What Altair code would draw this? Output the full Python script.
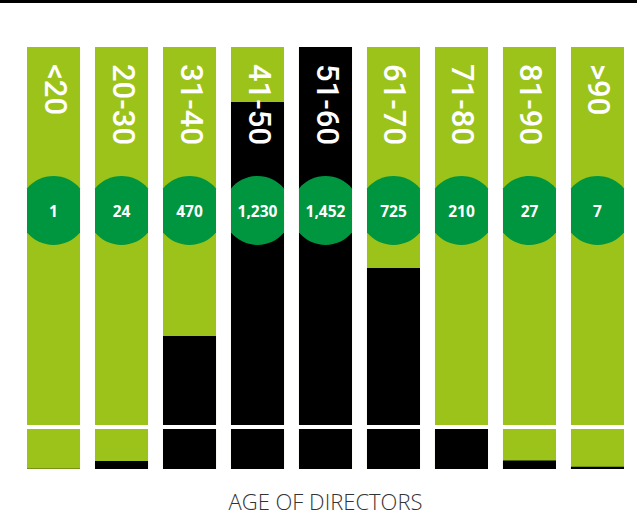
import altair as alt
import pandas as pd

categories = ["<20", "20-30", "31-40", "41-50", "51-60", "61-70", "71-80", "81-90", ">90"]
counts = [1, 24, 470, 1230, 1452, 725, 210, 27, 7]
count_labels = ["1", "24", "470", "1,230", "1,452", "725", "210", "27", "7"]

# broken / piecewise value scale as drawn in the infographic
scale_domain = [0, 24, 210, 470, 725, 1230, 1452]
scale_range = [422, 414, 382, 289, 221, 55, 0]
break_value = 210

GREEN = "#9BC31A"
DARK_GREEN = "#00963F"

df = pd.DataFrame({
    "age": categories,
    "count": counts,
    "label": count_labels,
    "full": [max(counts)] * len(counts),
})

W, H = 597, 422
x = alt.X("age:N", sort=categories, axis=None,
          scale=alt.Scale(paddingInner=0.22, paddingOuter=0))
yscale = alt.Scale(domain=scale_domain, range=scale_range, nice=False, zero=False)

base = alt.Chart(df)

bg = base.mark_bar(color=GREEN).encode(
    x=x,
    y=alt.Y("full:Q", scale=yscale, axis=None),
    y2=alt.datum(0),
)

bars = base.mark_bar(color="#000000").encode(
    x=x,
    y=alt.Y("count:Q", scale=yscale, axis=None),
    y2=alt.datum(0),
)

cut = base.mark_rule(color="white", strokeWidth=4, yOffset=-2).encode(
    y=alt.datum(break_value),
    x=alt.value(0),
    x2=alt.value(W),
)

r = 34.5
hx = 26.5 / r
hy = (1 - hx * hx) ** 0.5
shape_path = (f"M{-hx:.3f},{-hy:.3f} A1,1 0 0,1 {hx:.3f},{-hy:.3f} "
              f"L{hx:.3f},{hy:.3f} A1,1 0 0,1 {-hx:.3f},{hy:.3f} Z")

circles = base.mark_point(filled=True, shape=shape_path, size=(2 * r) ** 2,
                          color=DARK_GREEN, opacity=1, strokeWidth=0).encode(
    x=x,
    y=alt.value(163.5),
)

nums = base.mark_text(color="white", font="Open Sans", fontWeight="bold",
                      fontSize=15.5, baseline="middle", align="center").encode(
    x=x,
    y=alt.value(165),
    text="label:N",
)

names = base.mark_text(color="white", font="Roboto", fontWeight=500,
                       fontSize=31, angle=90, align="left",
                       baseline="middle").encode(
    x=x,
    y=alt.value(17),
    text="age:N",
)

topline = base.mark_rule(color="black", strokeWidth=3).encode(
    y=alt.value(-45.5),
    x=alt.value(-27),
    x2=alt.value(W + 13),
)

chart = alt.layer(bg, bars, cut, circles, nums, names, topline).properties(
    width=W,
    height=H,
    autosize=alt.AutoSizeParams(type="none"),
    padding={"left": 27, "top": 47, "right": 13, "bottom": 48},
    title=alt.TitleParams("AGE OF DIRECTORS", orient="bottom", anchor="middle",
                          font="Open Sans", fontSize=22, fontWeight=300,
                          color="#333333", offset=24),
).configure_view(stroke=None)

chart.save("out.html", embed_options={"renderer": "svg", "actions": False})
